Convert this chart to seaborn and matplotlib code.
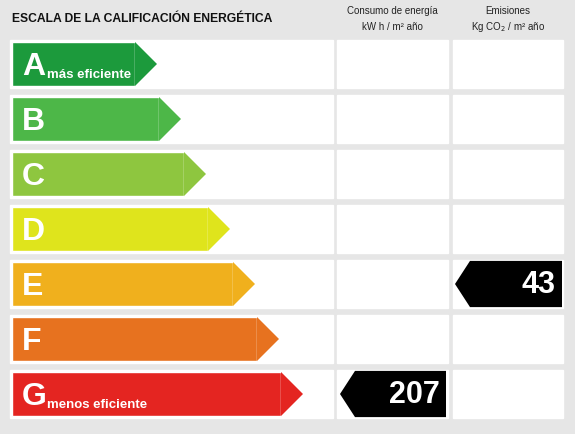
import numpy as np
import pandas as pd
import matplotlib
matplotlib.use("Agg")
import matplotlib.pyplot as plt
from matplotlib.patches import Polygon, Rectangle
import seaborn as sns

# ── Data ───────────────────────────────────────────────────────────────────────
letters   = ["A", "B", "C", "D", "E", "F", "G"]
arrow_end = [157, 181, 206, 230, 255, 279, 303]   # tip x in px
colors    = ["#1c9a3c", "#4db748", "#8ec63f", "#dfe41c", "#f0b01d", "#e7721f", "#e42521"]
subtitles = {"A": "más eficiente", "G": "menos eficiente"}
consumo_letter, consumo_value = "G", 207
emision_letter, emision_value = "E", 43

PITCH, Y0, TIP = 55.0, 64.0, 22

def ry(py):
    return (py - Y0) / PITCH

sns.set_theme(style="white")
plt.rcParams["font.family"] = ["Liberation Sans", "DejaVu Sans"]

fig = plt.figure(figsize=(5.75, 4.34), dpi=100)
fig.patch.set_facecolor("#e6e6e6")
ax = fig.add_axes([0, 0, 1, 1])
ax.set_facecolor("#e6e6e6")

# white panels
for i in range(len(letters)):
    for x0, x1 in [(10, 333), (337, 448), (453, 563)]:
        ax.add_patch(Rectangle((x0, i - 0.43), x1 - x0, 0.86, color="white", zorder=0))

# arrow bodies via seaborn
df = pd.DataFrame({"letter": letters, "body": [e - TIP - 12 for e in arrow_end]})
sns.barplot(data=df, y="letter", x="body", hue="letter", palette=colors,
            orient="h", width=0.8, legend=False, ax=ax, left=12, saturation=1)

for i, (l, e, c) in enumerate(zip(letters, arrow_end, colors)):
    ax.add_patch(Polygon([(e - TIP, i - 0.4), (e, i), (e - TIP, i + 0.4)], color=c, lw=0))
    ax.text(22, i + 0.06, l, color="white", fontsize=23, fontweight="bold",
            ha="left", va="center")
    if l in subtitles:
        ax.text(47, i + 0.2, subtitles[l], color="white", fontsize=9.5,
                fontweight="bold", ha="left", va="center")

def marker(letter, value, x0, x1):
    i = letters.index(letter)
    ax.add_patch(Polygon([(x0, i), (x0 + 15, i - 0.42), (x1, i - 0.42),
                          (x1, i + 0.42), (x0 + 15, i + 0.42)], color="black", lw=0))
    ax.text(x1 - 6, i + 0.02, str(value), color="white", fontsize=22,
            fontweight="bold", ha="right", va="center")

marker(consumo_letter, consumo_value, 340, 446)
marker(emision_letter, emision_value, 455, 562)

# headers
ax.text(12, ry(19), "ESCALA DE LA CALIFICACIÓN ENERGÉTICA", fontsize=8.7,
        fontweight="bold", ha="left", va="center", color="#111111")
ax.text(392, ry(11), "Consumo de energía", fontsize=7, ha="center", va="center", color="#222222")
ax.text(392, ry(27), "kW h / m² año", fontsize=7, ha="center", va="center", color="#222222")
ax.text(508, ry(11), "Emisiones", fontsize=7, ha="center", va="center", color="#222222")
ax.text(508, ry(27), "Kg CO$_2$ / m² año", fontsize=7, ha="center", va="center", color="#222222")

ax.set_xlim(0, 575)
ax.set_ylim(ry(434), ry(0))
ax.axis("off")

fig.savefig("out.png", dpi=100, facecolor=fig.get_facecolor())
